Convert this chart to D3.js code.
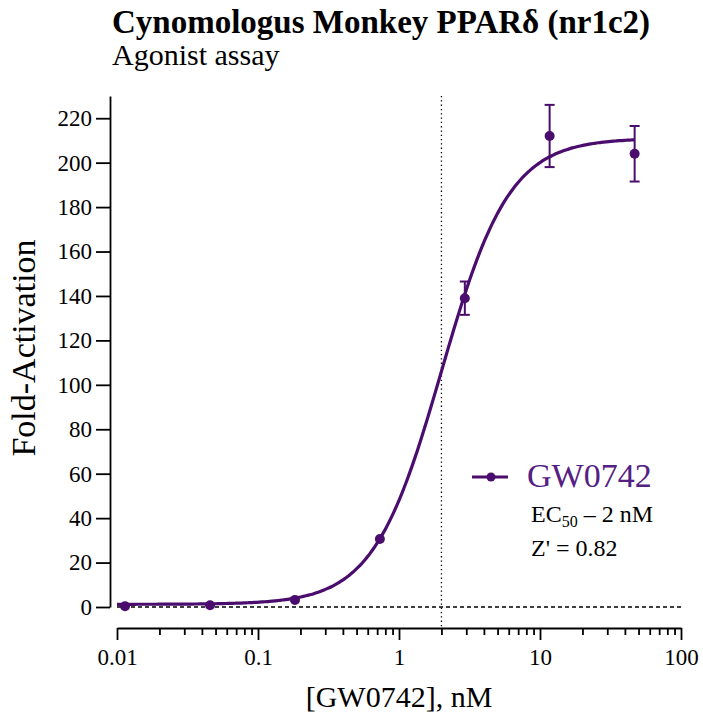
<!DOCTYPE html>
<html><head><meta charset="utf-8">
<script src="https://cdn.jsdelivr.net/npm/d3@7"></script>
<style>
html,body{margin:0;padding:0;background:#fff;}
svg{display:block;font-family:"Liberation Serif","Times New Roman",serif;}
</style></head>
<body>
<svg id="chart" width="703" height="714"></svg>
<script>
// ---- data ----
const concentrations = [0.0114, 0.0457, 0.183, 0.732, 2.93, 11.7, 46.9]; // nM
const foldActivation = [0.3, 0.8, 3.2, 30.6, 139, 212, 204];
const errorSEM = [0.5, 0.5, 0.8, 1.5, 7.5, 14, 12.5];
const fitParams = {bottom: 1.2, top: 211, ec50: 2, hill: 1.8};
const xMajorTicks = [0.01, 0.1, 1, 10, 100];
const xTickLabels = ["0.01", "0.1", "1", "10", "100"];
const yTicks = [0, 20, 40, 60, 80, 100, 120, 140, 160, 180, 200, 220];
const titleText = "Cynomologus Monkey PPARδ (nr1c2)";
const subtitleText = "Agonist assay";
const seriesName = "GW0742";
const ec50Label = "2 nM";
const zPrime = "0.82";

const purple = "#4a0d6e";
const markerR = 5;
const svg = d3.select("#chart");

const x = d3.scaleLog().domain([0.01, 100]).range([117, 681]);
const y = d3.scaleLinear().domain([0, 230]).range([607, 96]);

// titles
svg.append("text").attr("x", 112).attr("y", 33).attr("font-size", 33).attr("font-weight", "bold").text(titleText);
svg.append("text").attr("x", 112).attr("y", 65).attr("font-size", 30).text(subtitleText);

// y axis
const yAxis = svg.append("g").attr("transform", "translate(110,0)")
  .call(d3.axisLeft(y).tickValues(yTicks).tickSize(14).tickSizeOuter(0).tickPadding(4).tickFormat(d3.format("d")));
yAxis.selectAll("text").attr("font-size", 23).attr("fill", "#000").attr("font-family", "Liberation Serif");
yAxis.selectAll("path,line").attr("stroke", "#000").attr("stroke-width", 1.8);

// x axis minor ticks
const minor = [];
for (let d = 0.01; d < 100; d *= 10) for (let k = 2; k <= 9; k++) minor.push(+(d * k).toPrecision(3));
const xMinor = svg.append("g").attr("transform", "translate(0,628)")
  .call(d3.axisBottom(x).tickValues(minor).tickSize(7).tickSizeOuter(0).tickFormat(""));
xMinor.selectAll("path").remove();
xMinor.selectAll("line").attr("stroke", "#000").attr("stroke-width", 1.8);
const xAxis = svg.append("g").attr("transform", "translate(0,628)")
  .call(d3.axisBottom(x).tickValues(xMajorTicks).tickSize(12).tickSizeOuter(0).tickPadding(9)
    .tickFormat((d, i) => xTickLabels[i]));
xAxis.selectAll("text").attr("font-size", 23).attr("fill", "#000").attr("font-family", "Liberation Serif");
xAxis.selectAll("path,line").attr("stroke", "#000").attr("stroke-width", 1.8);

// axis titles
svg.append("text").attr("transform", "translate(35,348) rotate(-90)").attr("text-anchor", "middle")
  .attr("font-size", 34).text("Fold-Activation");
svg.append("text").attr("x", 399).attr("y", 707).attr("text-anchor", "middle").attr("font-size", 30).text("[GW0742], nM");

// reference lines
svg.append("line").attr("x1", x(0.01)).attr("x2", x(100)).attr("y1", y(0)).attr("y2", y(0))
  .attr("stroke", "#000").attr("stroke-width", 1.5).attr("stroke-dasharray", "4,3");
svg.append("line").attr("x1", x(fitParams.ec50)).attr("x2", x(fitParams.ec50)).attr("y1", y(230)).attr("y2", 628)
  .attr("stroke", "#000").attr("stroke-width", 1.3).attr("stroke-dasharray", "1.3,3");

// fitted curve (4-parameter logistic from fit parameters)
const fit = c => fitParams.bottom + (fitParams.top - fitParams.bottom) / (1 + Math.pow(fitParams.ec50 / c, fitParams.hill));
const curveX = d3.range(0, 201).map(i => Math.pow(10, Math.log10(0.01) + i / 200 * (Math.log10(concentrations[6]) - Math.log10(0.01))));
svg.append("path").datum(curveX)
  .attr("d", d3.line().x(c => x(c)).y(c => y(fit(c))).curve(d3.curveMonotoneX))
  .attr("fill", "none").attr("stroke", purple).attr("stroke-width", 3.2);

// error bars (hidden when shorter than the symbol, as in the original)
const pts = concentrations.map((c, i) => ({c, v: foldActivation[i], e: errorSEM[i]}));
const eb = svg.append("g").attr("stroke", purple).attr("stroke-width", 2);
pts.filter(p => y(p.v) - y(p.v + p.e) > markerR + 1).forEach(p => {
  eb.append("line").attr("x1", x(p.c)).attr("x2", x(p.c)).attr("y1", y(p.v - p.e)).attr("y2", y(p.v + p.e));
  [p.v - p.e, p.v + p.e].forEach(v => eb.append("line").attr("x1", x(p.c) - 5).attr("x2", x(p.c) + 5).attr("y1", y(v)).attr("y2", y(v)));
});
svg.append("g").selectAll("circle").data(pts).join("circle")
  .attr("cx", p => x(p.c)).attr("cy", p => y(p.v)).attr("r", markerR).attr("fill", purple);

// legend
svg.append("line").attr("x1", 472).attr("x2", 508).attr("y1", 477).attr("y2", 477).attr("stroke", purple).attr("stroke-width", 3);
svg.append("circle").attr("cx", 491).attr("cy", 477).attr("r", 4.5).attr("fill", purple);
svg.append("text").attr("x", 527).attr("y", 487).attr("font-size", 34).attr("fill", "#552082").text(seriesName);
const ec = svg.append("text").attr("x", 531).attr("y", 522).attr("font-size", 24);
ec.append("tspan").text("EC");
ec.append("tspan").attr("font-size", 16).attr("dy", 5).text("50");
ec.append("tspan").attr("dy", -5).text(" – " + ec50Label);
svg.append("text").attr("x", 531).attr("y", 556).attr("font-size", 24).text("Z' = " + zPrime);
</script>
</body></html>
